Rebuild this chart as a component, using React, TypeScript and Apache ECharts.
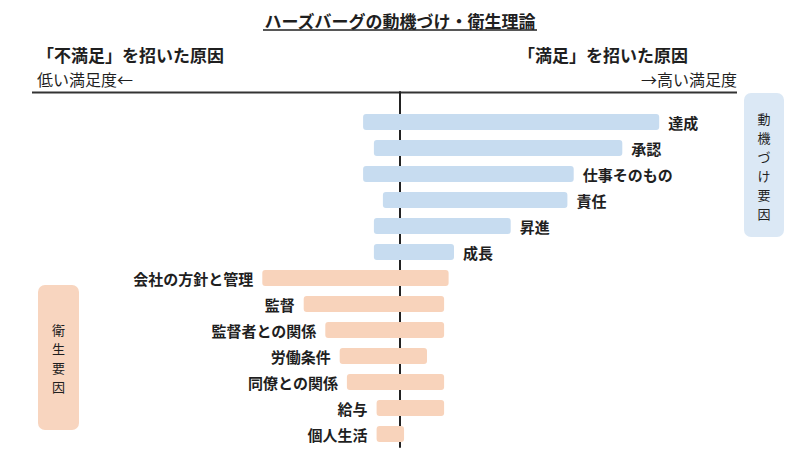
import React, { useEffect, useRef } from "react";
import * as echarts from "echarts";

const categories = [
  "達成",
  "承認",
  "仕事そのもの",
  "責任",
  "昇進",
  "成長",
  "会社の方針と管理",
  "監督",
  "監督者との関係",
  "労働条件",
  "同僚との関係",
  "給与",
  "個人生活",
];
// left end (dissatisfaction side, negative) and right end (satisfaction side, positive)
const dissatisfaction = [-4.1, -2.9, -4.1, -1.9, -2.9, -2.9, -15.3, -10.7, -8.3, -6.7, -5.9, -2.6, -2.6];
const satisfaction = [28.8, 24.7, 19.3, 18.6, 12.3, 6.0, 5.4, 4.9, 4.9, 3.0, 4.9, 4.9, 0.45];
const factorType = [
  "motivator", "motivator", "motivator", "motivator", "motivator", "motivator",
  "hygiene", "hygiene", "hygiene", "hygiene", "hygiene", "hygiene", "hygiene",
];
const motivatorTitle = ["動", "機", "づ", "け", "要", "因"];
const hygieneTitle = ["衛", "生", "要", "因"];

const FONT = '"Noto Sans CJK JP", "Noto Sans", sans-serif';
const BLUE_BAR = "#c7dcf0";
const ORANGE_BAR = "#f8d3bb";
const BLUE_BOX = "#dbe8f5";
const ORANGE_BOX = "#f8d5bf";
const TEXT = "#1f1f1f";

function verticalChars(chars: string[], cx: number, cy: number, step: number) {
  const start = cy - ((chars.length - 1) * step) / 2;
  return chars.map((ch, k) => ({
    type: "text",
    x: cx,
    y: start + k * step,
    style: {
      text: ch,
      align: "center",
      verticalAlign: "middle",
      fontSize: 13,
      fontFamily: FONT,
      fill: TEXT,
    },
  }));
}

export default function App() {
  const ref = useRef<HTMLDivElement>(null);

  useEffect(() => {
    if (!ref.current) return;
    const chart = echarts.init(ref.current, undefined, { renderer: "svg" });

    const data = categories.map((c, i) => [dissatisfaction[i], satisfaction[i], i]);

    const option: any = {
      animation: false,
      backgroundColor: "#ffffff",
      grid: { left: 40, right: 40, top: 92, bottom: 5 },
      xAxis: {
        type: "value",
        min: -40,
        max: 40,
        show: false,
      },
      yAxis: {
        type: "value",
        inverse: true,
        min: -30 / 26,
        max: 325 / 26,
        axisLine: { show: true, onZero: true, lineStyle: { color: "#222", width: 2 } },
        axisLabel: { show: false },
        axisTick: { show: false },
        splitLine: { show: false },
      },
      series: [
        {
          type: "custom",
          data,
          z: 1,
          renderItem: (params: any, api: any) => {
            const i = api.value(2);
            const lo = api.coord([api.value(0), i]);
            const hi = api.coord([api.value(1), i]);
            const isMot = factorType[i] === "motivator";
            return {
              type: "group",
              children: [
                {
                  type: "rect",
                  shape: { x: lo[0], y: lo[1] - 8, width: hi[0] - lo[0], height: 16, r: 3 },
                  style: { fill: isMot ? BLUE_BAR : ORANGE_BAR },
                },
                {
                  type: "text",
                  style: {
                    text: categories[i],
                    x: isMot ? hi[0] + 9 : lo[0] - 9,
                    y: lo[1],
                    align: isMot ? "left" : "right",
                    verticalAlign: "middle",
                    fontSize: 15,
                    fontWeight: "bold",
                    fontFamily: FONT,
                    fill: TEXT,
                  },
                },
              ],
            };
          },
        },
      ],
      graphic: [
        {
          type: "text",
          x: 400,
          y: 20,
          style: {
            text: "ハーズバーグの動機づけ・衛生理論",
            align: "center",
            verticalAlign: "middle",
            fontSize: 17,
            fontWeight: "bold",
            fontFamily: FONT,
            fill: TEXT,
          },
        },
        {
          type: "line",
          shape: { x1: 263, y1: 30, x2: 537, y2: 30 },
          style: { stroke: TEXT, lineWidth: 1.5 },
        },
        {
          type: "text",
          x: 37,
          y: 54,
          style: {
            text: "「不満足」を招いた原因",
            align: "left",
            verticalAlign: "middle",
            fontSize: 17,
            fontWeight: "bold",
            fontFamily: FONT,
            fill: TEXT,
          },
        },
        {
          type: "text",
          x: 37,
          y: 79,
          style: {
            text: "低い満足度←",
            align: "left",
            verticalAlign: "middle",
            fontSize: 16,
            fontFamily: FONT,
            fill: TEXT,
          },
        },
        {
          type: "text",
          x: 688,
          y: 54,
          style: {
            text: "「満足」を招いた原因",
            align: "right",
            verticalAlign: "middle",
            fontSize: 17,
            fontWeight: "bold",
            fontFamily: FONT,
            fill: TEXT,
          },
        },
        {
          type: "text",
          x: 737,
          y: 79,
          style: {
            text: "→高い満足度",
            align: "right",
            verticalAlign: "middle",
            fontSize: 16,
            fontFamily: FONT,
            fill: TEXT,
          },
        },
        {
          type: "line",
          shape: { x1: 32, y1: 92.5, x2: 737, y2: 92.5 },
          style: { stroke: "#333", lineWidth: 2 },
        },
        {
          type: "rect",
          shape: { x: 744, y: 93, width: 40, height: 144, r: 7 },
          style: { fill: BLUE_BOX },
        },
        ...verticalChars(motivatorTitle, 764, 166, 19),
        {
          type: "rect",
          shape: { x: 38, y: 285, width: 41, height: 145, r: 7 },
          style: { fill: ORANGE_BOX },
        },
        ...verticalChars(hygieneTitle, 58.5, 358, 19),
      ],
    };

    chart.setOption(option);
    return () => chart.dispose();
  }, []);

  return (
    <div
      ref={ref}
      style={{ position: "fixed", left: 0, top: 0, width: 800, height: 452 }}
    />
  );
}
